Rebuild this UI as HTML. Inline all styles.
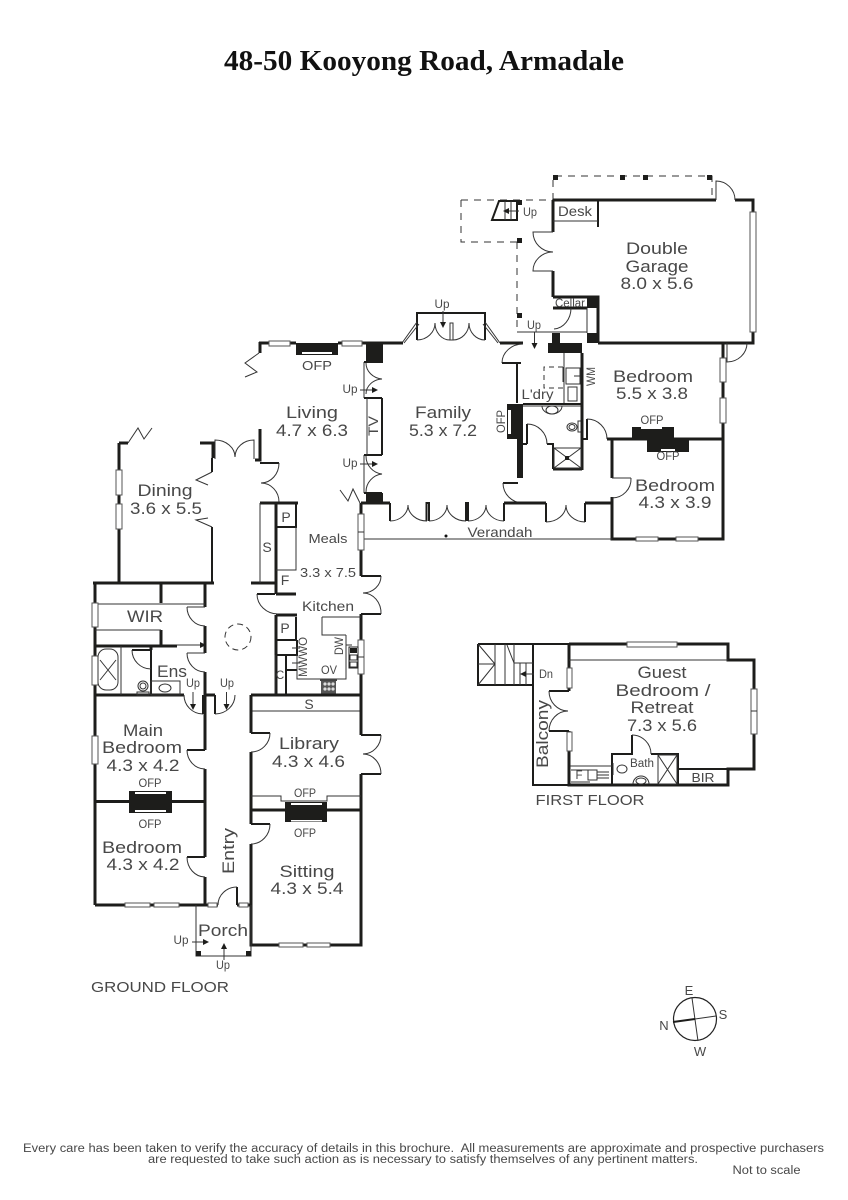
<!DOCTYPE html>
<html><head><meta charset="utf-8"><title>48-50 Kooyong Road, Armadale</title>
<style>
html,body{margin:0;padding:0;background:#fff}
svg{display:block}
.t{fill:none;stroke:#1d1d1b;stroke-width:3}
.m{fill:none;stroke:#1d1d1b;stroke-width:2}
.n{fill:none;stroke:#333;stroke-width:1}
.d{fill:none;stroke:#333;stroke-width:1;stroke-dasharray:7 6}
.b{fill:#1d1d1b}
.w{fill:#fff;stroke:#555;stroke-width:1}
text{font-family:"Liberation Sans",sans-serif;fill:#484848;text-anchor:middle}
.l{font-size:17px}.s{font-size:14px}.x{font-size:11.5px}.o{font-size:13px}
.ti{font-family:"Liberation Serif",serif;font-weight:bold;font-size:28px;fill:#111}
</style></head><body>
<svg width="848" height="1200" viewBox="0 0 848 1200" xmlns="http://www.w3.org/2000/svg">
<defs><marker id="a" markerWidth="6" markerHeight="6" refX="5" refY="3" orient="auto"><path d="M0 0L6 3L0 6z" fill="#1d1d1b"/></marker></defs>
<rect width="848" height="1200" fill="#fff"/>
<text x="424" y="70" class="ti" textLength="400" lengthAdjust="spacingAndGlyphs">48-50 Kooyong Road, Armadale</text>

<!-- GARAGE -->
<path class="d" d="M553 200V176H712V200M461 200H553M461 200V242H517M517 242V332"/>
<rect class="b" x="553" y="175" width="5" height="5"/><rect class="b" x="620" y="175" width="5" height="5"/><rect class="b" x="643" y="175" width="5" height="5"/><rect class="b" x="707" y="175" width="5" height="5"/>
<rect class="b" x="517" y="200" width="5" height="5"/><rect class="b" x="517" y="238" width="5" height="5"/><rect class="b" x="517" y="313" width="5" height="5"/>
<path class="t" d="M553 200H716M735 200H753V343H727M598 343H727M553 200V232M553 271V297M553 297H598V343M553 308H587"/>
<path class="n" d="M716 200V181A19 19 0 0 1 735 200M727 343V362A20 19 0 0 0 747 343"/>
<path class="n" d="M553 232H533A20 20 0 0 0 553 252A20 19 0 0 0 533 271H553"/>
<path class="m" d="M598 200V227"/><path class="n" d="M553 221H598"/>
<rect class="w" x="750" y="212" width="6" height="120"/>
<rect class="b" x="587" y="296" width="11" height="12"/><rect class="b" x="587" y="333" width="11" height="10"/>
<rect class="b" x="552" y="333" width="8" height="10"/><rect class="b" x="548" y="343" width="34" height="10"/>
<path class="n" d="M587 308V333M517 332H587M571 308A18 21 0 0 1 554 329"/>
<!-- stair -->
<path class="m" d="M492 220L499 201H517V220Z"/><path class="n" d="M505 201V220M511 201V220"/>
<path class="n" d="M519 211H504" marker-end="url(#a)"/>
<text x="530" y="216" class="x" textLength="14" lengthAdjust="spacingAndGlyphs">Up</text>
<text x="575" y="216" class="s" textLength="34" lengthAdjust="spacingAndGlyphs">Desk</text>
<text x="570" y="307" class="x" textLength="30" lengthAdjust="spacingAndGlyphs">Cellar</text>
<text x="534" y="329" class="x" textLength="14" lengthAdjust="spacingAndGlyphs">Up</text>
<path class="n" d="M534.500 332V348" marker-end="url(#a)"/>
<text x="657" y="254" class="l" textLength="62" lengthAdjust="spacingAndGlyphs">Double</text>
<text x="657" y="272" class="l" textLength="63" lengthAdjust="spacingAndGlyphs">Garage</text>
<text x="657" y="289" class="l" textLength="73" lengthAdjust="spacingAndGlyphs">8.0 x 5.6</text>

<!-- FAMILY + bay -->
<path class="m" d="M417 340V313H485V340"/>
<rect class="n" x="450" y="323" width="3" height="17"/>
<path class="n" d="M417 340A18 17 0 0 0 435 323A15 17 0 0 0 450 340M453 340A16 17 0 0 0 469 323A16 17 0 0 0 485 340"/>
<path class="n" d="M417 322L402 343M419 324L404 343M485 322L500 343M483 324L498 343"/>
<path class="t" d="M382 343H403M500 343H523"/>
<text x="442" y="308" class="x" textLength="15" lengthAdjust="spacingAndGlyphs">Up</text>
<path class="n" d="M443 311V327" marker-end="url(#a)"/>
<path class="n" d="M523 344A21 19 0 0 0 502 363"/>
<path class="m" d="M502 363H521M517 363V403"/>
<rect class="b" x="507" y="404" width="16" height="35"/><rect x="508" y="410" width="3" height="24" fill="#fff"/>
<rect class="b" x="517" y="439" width="6" height="39"/>
<path class="m" d="M503 483H518"/><path class="n" d="M503 483A20 20 0 0 0 523 503"/>
<path class="t" d="M382 503H390M504 503H546M585 503H612"/>
<path class="m" d="M390 503V521M426.500 521V503H429V521M466 521V503H468V521M504 521V503M546 503V522M585 522V503"/>
<path class="n" d="M390 521A18 16 0 0 0 408 505A19 16 0 0 0 427 521M429 521A18 16 0 0 0 447 505A19 16 0 0 0 466 521M468 521A18 16 0 0 0 486 505A18 16 0 0 0 504 521M546 522A20 17 0 0 0 566 505A19 17 0 0 0 585 522"/>
<text x="443" y="418" class="l" textLength="56" lengthAdjust="spacingAndGlyphs">Family</text>
<text x="443" y="436" class="l" textLength="68" lengthAdjust="spacingAndGlyphs">5.3 x 7.2</text>
<text x="505" y="421.500" class="x" textLength="23" lengthAdjust="spacingAndGlyphs" transform="rotate(-90 505 421.500)">OFP</text>

<!-- LAUNDRY / BATH -->
<path class="n" d="M564 353V403"/>
<rect class="n" x="566" y="368" width="14" height="16"/><rect class="n" x="568" y="387" width="9" height="14"/>
<path class="d" d="M563 367H544V388H563" style="stroke-dasharray:5 4"/><path class="n" d="M563 367V382"/>
<path class="n" d="M574 376H582"/>
<text x="537.500" y="399" class="s" textLength="32" lengthAdjust="spacingAndGlyphs">L'dry</text>
<text x="595" y="376.500" class="x" textLength="19" lengthAdjust="spacingAndGlyphs" transform="rotate(-90 595 376.500)">WM</text>
<path class="m" d="M523 404H582"/>
<path class="n" d="M523 406H582M542 406A10 8 0 0 0 562 406"/>
<ellipse class="n" cx="552" cy="410" rx="6" ry="4"/>
<ellipse class="n" cx="572" cy="427" rx="5" ry="4"/><ellipse class="n" cx="572" cy="427" rx="3" ry="2.500"/>
<rect class="n" x="578" y="421" width="4" height="11"/>
<path class="t" d="M582 353V470M553 469H582"/>
<path class="m" d="M553 469V444H547M527 444V424M527 444H523"/>
<path class="n" d="M527 424A20 20 0 0 1 547 444"/>
<path class="n" d="M554 448H581V468H554ZM554 448L581 468M581 448L554 468"/><rect class="b" x="565" y="456" width="4" height="4"/>
<path class="m" d="M587 419V439H583"/><path class="n" d="M587 419A20 20 0 0 1 607 439"/>

<!-- BEDROOMS EAST -->
<path class="t" d="M607 439H723M723 343V539H612V497M612 478V439M612 503V539"/>
<path class="n" d="M612 478H631"/><path class="n" d="M631 478A19 19 0 0 1 612 498"/>
<rect class="w" x="720" y="358" width="6" height="24"/><rect class="w" x="720" y="398" width="6" height="25"/>
<rect class="w" x="636" y="537" width="22" height="4"/><rect class="w" x="676" y="537" width="22" height="4"/>
<rect class="b" x="632" y="427" width="42" height="12"/><rect class="b" x="647" y="439" width="42" height="13"/>
<rect x="641" y="427" width="21" height="2" fill="#fff"/><rect x="661" y="449" width="14" height="2" fill="#fff"/>
<text x="652" y="424" class="x" textLength="23" lengthAdjust="spacingAndGlyphs">OFP</text><text x="668" y="460" class="x" textLength="23" lengthAdjust="spacingAndGlyphs">OFP</text>
<text x="653" y="382" class="l" textLength="80" lengthAdjust="spacingAndGlyphs">Bedroom</text><text x="652" y="399" class="l" textLength="72" lengthAdjust="spacingAndGlyphs">5.5 x 3.8</text>
<text x="675" y="491" class="l" textLength="80" lengthAdjust="spacingAndGlyphs">Bedroom</text><text x="675" y="508" class="l" textLength="73" lengthAdjust="spacingAndGlyphs">4.3 x 3.9</text>
<path class="n" d="M362 539H612"/><circle cx="446" cy="536" r="1.500" fill="#111"/>
<text x="500" y="537" class="s" textLength="65" lengthAdjust="spacingAndGlyphs">Verandah</text>

<!-- LIVING -->
<path class="t" d="M259 343H296M338 343H382M260 342V353"/>
<rect class="w" x="269" y="341" width="21" height="5"/><rect class="w" x="342" y="341" width="20" height="5"/>
<rect class="b" x="296" y="343" width="42" height="12"/><rect x="302" y="352" width="30" height="2" fill="#fff"/>
<path class="n" d="M259 353L245 363L257 372L245 377"/>
<text x="317" y="370" class="o" textLength="30" lengthAdjust="spacingAndGlyphs">OFP</text>
<rect class="b" x="366" y="343" width="17" height="20"/><rect class="b" x="366" y="493" width="17" height="11"/>
<path class="n" d="M364 362V398M364 455V493"/>
<path class="m" d="M364 362H382M364 398H382M364 455H382M364 493H382"/>
<path class="n" d="M366 363A18 16 0 0 0 382 379A17 15 0 0 0 366 394M366 456A18 18 0 0 0 382 474A18 18 0 0 0 366 492"/>
<path class="m" d="M382 398V455"/><path class="n" d="M367 398V455"/>
<text x="378" y="426" class="s" textLength="20" lengthAdjust="spacingAndGlyphs" transform="rotate(-90 378 426)">TV</text>
<text x="350" y="393" class="x" textLength="15" lengthAdjust="spacingAndGlyphs">Up</text><text x="350" y="467" class="x" textLength="15" lengthAdjust="spacingAndGlyphs">Up</text>
<path class="n" d="M360 390H377" marker-end="url(#a)"/><path class="n" d="M360 464H377" marker-end="url(#a)"/>
<text x="312" y="418" class="l" textLength="52" lengthAdjust="spacingAndGlyphs">Living</text><text x="312" y="436" class="l" textLength="72" lengthAdjust="spacingAndGlyphs">4.7 x 6.3</text>
<path class="n" d="M340 490L348 501L353 489L360 503"/>

<!-- MEALS EAST -->
<path class="t" d="M361 503V576M361 614V695M361 503H382"/>
<rect class="w" x="358" y="514" width="6" height="36"/><rect class="w" x="358" y="640" width="6" height="34"/>
<path class="n" d="M358 532H364M358 657H364"/>
<path class="m" d="M361 576H381M381 614H361"/>
<path class="n" d="M381 576A18 17 0 0 1 363 593A18 20 0 0 1 381 614"/>

<!-- DINING -->
<path class="t" d="M119 443V583M119 443H128M200 443H213V458"/>
<path class="n" d="M128 443L138 428L144 439L152 428"/>
<rect class="w" x="116" y="470" width="6" height="25"/><rect class="w" x="116" y="504" width="6" height="25"/>
<path class="m" d="M212 458V472M212 527V583"/>
<path class="n" d="M212 472L196 480L208 485M208 518L196 520L212 527"/>
<path class="n" d="M215 459V440A20 17 0 0 1 235 457A19 17 0 0 1 254 440V459"/>
<path class="t" d="M260 429V460H255"/><path class="m" d="M260 463H279"/>
<path class="n" d="M279 463A18 20 0 0 1 261 483A18 19 0 0 1 279 502"/>
<text x="165" y="496" class="l" textLength="55" lengthAdjust="spacingAndGlyphs">Dining</text><text x="166" y="514" class="l" textLength="72" lengthAdjust="spacingAndGlyphs">3.6 x 5.5</text>

<!-- CENTRAL STORAGE -->
<path class="t" d="M260 503H298M276 503V594M93 583H214M251 583H276M276 594H296M276 615H297M276 615V695"/>
<path class="n" d="M260 503V583"/>
<path class="m" d="M296 503V527H276"/><path class="n" d="M296 527V570H276"/>
<text x="286" y="522" class="s">P</text><text x="267" y="552" class="s">S</text><text x="285" y="585" class="s">F</text>
<text x="328" y="543" class="o" textLength="39" lengthAdjust="spacingAndGlyphs">Meals</text><text x="328" y="577" class="o" textLength="56" lengthAdjust="spacingAndGlyphs">3.3 x 7.5</text>
<text x="328" y="611" class="s" textLength="52" lengthAdjust="spacingAndGlyphs">Kitchen</text>
<path class="m" d="M275 594H257"/><path class="n" d="M257 594A21 20 0 0 0 278 614"/>

<!-- KITCHEN -->
<path class="m" d="M296 617V640H276M276 655H297V640M286 655V695M287 670H297"/>
<path class="n" d="M275 655V695M297 655V679H346V635M322 617H361M322 617V635H346M346 645H352"/>
<path class="n" d="M292 648H300M292 663H300"/>
<text x="285" y="633" class="s">P</text><text x="280" y="679" class="x">C</text>
<text x="307" y="657" class="x" textLength="40" lengthAdjust="spacingAndGlyphs" transform="rotate(-90 307 657)">MWWO</text>
<text x="343" y="646" class="x" textLength="18" lengthAdjust="spacingAndGlyphs" transform="rotate(-90 343 646)">DW</text>
<text x="329" y="674" class="x" textLength="16" lengthAdjust="spacingAndGlyphs">OV</text>
<rect x="349" y="647" width="9" height="21" fill="#fff" stroke="#222" stroke-width="1"/><rect class="b" x="350" y="648" width="7" height="5"/><rect class="n" x="350" y="655" width="7" height="5"/><rect class="n" x="350" y="662" width="7" height="5"/>
<rect x="320" y="679" width="17" height="2" fill="#444"/><rect x="321" y="681" width="15" height="13" fill="#555"/>
<circle cx="325" cy="684" r="1.600" fill="#ddd"/><circle cx="329" cy="684" r="1.600" fill="#ddd"/><circle cx="333" cy="684" r="1.600" fill="#ddd"/><circle cx="325" cy="689" r="1.600" fill="#ddd"/><circle cx="329" cy="689" r="1.600" fill="#ddd"/><circle cx="333" cy="689" r="1.600" fill="#ddd"/>

<!-- WIR / ENS -->
<path class="t" d="M95 583V905M205 583V607M205 626V653M205 672V695M95 695H184M206 695H215M251 695H361"/>
<path class="t" d="M161 583V603M161 630V646M95 646H177M151 646V650"/>
<path class="n" d="M95 604H205M95 630H161"/><path class="n" d="M177 645H205" marker-end="url(#a)"/>
<rect class="w" x="92" y="603" width="6" height="24"/><rect class="w" x="92" y="656" width="6" height="29"/>
<path class="n" d="M205 607H187M205 653H187"/><path class="n" d="M187 607A18 19 0 0 0 205 626M187 653A18 19 0 0 0 205 672"/>
<text x="145" y="622" class="l" textLength="36" lengthAdjust="spacingAndGlyphs">WIR</text>
<circle cx="238" cy="637" r="13" fill="none" stroke="#333" stroke-dasharray="6 4"/>
<path class="n" d="M121 646V695"/>
<rect x="98" y="649" width="20" height="41" rx="8" fill="none" stroke="#333"/><path class="n" d="M100 660L116 680M116 660L100 680"/>
<path class="m" d="M132 650H151V669"/><path class="n" d="M132 650A19 19 0 0 0 151 669"/><path class="m" d="M151 669V695"/>
<ellipse class="n" cx="143" cy="686" rx="5" ry="5"/><ellipse class="n" cx="143" cy="686" rx="3" ry="3"/><rect class="n" x="137" y="692" width="12" height="3"/>
<rect class="n" x="151" y="681" width="29" height="14"/><ellipse class="n" cx="165" cy="688" rx="6" ry="4"/>
<text x="172" y="677" class="l" textLength="30" lengthAdjust="spacingAndGlyphs">Ens</text>
<text x="193" y="687" class="x" textLength="14" lengthAdjust="spacingAndGlyphs">Up</text><text x="227" y="687" class="x" textLength="14" lengthAdjust="spacingAndGlyphs">Up</text>
<path class="n" d="M193 692V709" marker-end="url(#a)"/><path class="n" d="M226.500 692V709" marker-end="url(#a)"/>
<path class="n" d="M184 695A19 19 0 0 0 203 714"/><path class="m" d="M203 695V714M215 695V714"/><path class="n" d="M215 714A20 19 0 0 0 235 695"/>

<!-- WEST BEDROOMS -->
<path class="t" d="M205 695V750M205 769V857M205 877V905M95 905H205M95 801.500H205"/>
<path class="m" d="M205 750H187M205 857H187"/><path class="n" d="M187 750A18 19 0 0 0 205 769M187 857A18 20 0 0 0 205 877"/>
<rect class="w" x="92" y="736" width="6" height="28"/>
<rect class="w" x="125" y="903" width="25" height="4"/><rect class="w" x="154" y="903" width="25" height="4"/>
<rect class="b" x="129" y="791" width="43" height="22"/><rect x="135" y="792" width="31" height="2" fill="#fff"/><rect x="135" y="810" width="31" height="2" fill="#fff"/>
<text x="150" y="787" class="x" textLength="23" lengthAdjust="spacingAndGlyphs">OFP</text><text x="150" y="828" class="x" textLength="23" lengthAdjust="spacingAndGlyphs">OFP</text>
<text x="143" y="736" class="l" textLength="40" lengthAdjust="spacingAndGlyphs">Main</text><text x="142" y="753" class="l" textLength="80" lengthAdjust="spacingAndGlyphs">Bedroom</text><text x="143" y="771" class="l" textLength="73" lengthAdjust="spacingAndGlyphs">4.3 x 4.2</text>
<text x="142" y="853" class="l" textLength="80" lengthAdjust="spacingAndGlyphs">Bedroom</text><text x="143" y="870" class="l" textLength="73" lengthAdjust="spacingAndGlyphs">4.3 x 4.2</text>

<!-- LIBRARY / SITTING -->
<path class="n" d="M251 711H361"/>
<text x="309" y="709" class="s">S</text>
<path class="t" d="M251 695V733M251 752V824M251 844V945H361V774M361 735V695M251 810H361"/>
<path class="m" d="M251 733H270M251 824H270M361 735H381M381 774H361"/>
<path class="n" d="M270 733A19 19 0 0 1 251 752M270 824A19 20 0 0 1 251 844M381 735A18 19 0 0 1 363 754A18 20 0 0 1 381 774"/>
<path class="n" d="M251 796H281V801H327V796H361"/>
<rect class="b" x="285" y="802" width="42" height="20"/><rect x="291" y="803" width="31" height="2" fill="#fff"/><rect x="291" y="820" width="31" height="1.500" fill="#fff"/>
<rect class="w" x="279" y="943" width="24" height="4"/><rect class="w" x="307" y="943" width="23" height="4"/>
<text x="305" y="797" class="x" textLength="22" lengthAdjust="spacingAndGlyphs">OFP</text><text x="305" y="837" class="x" textLength="22" lengthAdjust="spacingAndGlyphs">OFP</text>
<text x="309" y="749" class="l" textLength="60" lengthAdjust="spacingAndGlyphs">Library</text><text x="308.500" y="767" class="l" textLength="73" lengthAdjust="spacingAndGlyphs">4.3 x 4.6</text>
<text x="307" y="877" class="l" textLength="55" lengthAdjust="spacingAndGlyphs">Sitting</text><text x="307" y="894" class="l" textLength="73" lengthAdjust="spacingAndGlyphs">4.3 x 5.4</text>

<!-- ENTRY / PORCH -->
<text x="234" y="851" class="l" textLength="46" lengthAdjust="spacingAndGlyphs" transform="rotate(-90 234 851)">Entry</text>
<path class="t" d="M205 905H218M237 905H251"/>
<rect class="w" x="208" y="903" width="9" height="4"/><rect class="w" x="239" y="903" width="9" height="4"/>
<path class="m" d="M237 905V887"/><path class="n" d="M237 887A19 18 0 0 0 218 905"/>
<path class="n" d="M196 905V956H251V905"/>
<rect class="b" x="196" y="951" width="5" height="5"/><rect class="b" x="246" y="951" width="5" height="5"/>
<text x="223" y="936" class="l" textLength="50" lengthAdjust="spacingAndGlyphs">Porch</text>
<text x="181" y="944" class="x" textLength="15" lengthAdjust="spacingAndGlyphs">Up</text><text x="223" y="969" class="x" textLength="14" lengthAdjust="spacingAndGlyphs">Up</text>
<path class="n" d="M192 942H208" marker-end="url(#a)"/><path class="n" d="M224 960V944" marker-end="url(#a)"/>
<text x="160" y="992" style="font-size:15px" textLength="138" lengthAdjust="spacingAndGlyphs">GROUND FLOOR</text>

<!-- FIRST FLOOR -->
<path class="m" d="M478 644H569M478 644V685H533M533 644V785H569"/>
<path class="n" d="M478 644L495 664L478 685M478 664H495M495 644V685M505 644V685M514 644V685M520 663V685M526 663V685M514 663H533M507 645L514 663"/>
<path class="n" d="M534 674H521" marker-end="url(#a)"/>
<text x="546" y="678" class="x" textLength="14" lengthAdjust="spacingAndGlyphs">Dn</text>
<path class="t" d="M569 644V691M569 731V785H728V769H754V660H728V644H569"/>
<path class="n" d="M569 660H728"/>
<rect class="w" x="627" y="642" width="50" height="5"/><rect class="w" x="751" y="689" width="6" height="45"/><path class="n" d="M751 711H757"/>
<rect class="w" x="567" y="668" width="5" height="20"/><rect class="w" x="567" y="732" width="5" height="19"/>
<path class="m" d="M569 691H549M569 731H549"/>
<path class="n" d="M549 691A19 20 0 0 0 568 711A19 20 0 0 0 549 731"/>
<path class="m" d="M612 785V754H632V735M651 754H678V785"/><path class="n" d="M632 735A19 19 0 0 1 651 754"/>
<path class="m" d="M678 769H728"/>
<path class="n" d="M658 755H677V784H658ZM658 755L677 784M677 755L658 784M570 766H612"/>
<ellipse class="n" cx="622" cy="769" rx="5" ry="4"/><path class="n" d="M613 763V775"/>
<path class="n" d="M633 784A8 8 0 0 1 649 784"/><ellipse class="n" cx="641" cy="781" rx="5" ry="3"/>
<rect class="n" x="588" y="770" width="9" height="10"/><path class="n" d="M597 772H609M597 775H609M597 778H609M571 770H590M571 782H590"/>
<text x="579" y="779" class="x">F</text>
<text x="642" y="767" class="x" textLength="24" lengthAdjust="spacingAndGlyphs">Bath</text>
<text x="703" y="782" class="o" textLength="23" lengthAdjust="spacingAndGlyphs">BIR</text>
<text x="548" y="734" class="l" textLength="68" lengthAdjust="spacingAndGlyphs" transform="rotate(-90 548 734)">Balcony</text>
<text x="662" y="678" class="l" textLength="49" lengthAdjust="spacingAndGlyphs">Guest</text><text x="663" y="696" class="l" textLength="95" lengthAdjust="spacingAndGlyphs">Bedroom /</text>
<text x="662" y="713" class="l" textLength="63" lengthAdjust="spacingAndGlyphs">Retreat</text><text x="662" y="731" class="l" textLength="70" lengthAdjust="spacingAndGlyphs">7.3 x 5.6</text>
<text x="590" y="805" style="font-size:15px" textLength="109" lengthAdjust="spacingAndGlyphs">FIRST FLOOR</text>

<!-- COMPASS -->
<circle cx="695" cy="1019" r="21.500" fill="none" stroke="#222" stroke-width="1.200"/>
<path class="n" d="M692 998L698 1041M695 1019L716 1016"/><path class="m" d="M673 1022L695 1019"/>
<text x="689" y="995" class="o">E</text><text x="723" y="1019" class="o">S</text><text x="664" y="1030" class="o">N</text><text x="700" y="1056" class="o">W</text>

<!-- FOOTER -->
<text x="423.500" y="1152" style="font-size:11.500px" textLength="801" lengthAdjust="spacingAndGlyphs">Every care has been taken to verify the accuracy of details in this brochure.&#160; All measurements are approximate and prospective purchasers</text>
<text x="423" y="1163" style="font-size:11.500px" textLength="550" lengthAdjust="spacingAndGlyphs">are requested to take such action as is necessary to satisfy themselves of any pertinent matters.</text>
<text x="766.500" y="1174" style="font-size:11.500px" textLength="68" lengthAdjust="spacingAndGlyphs">Not to scale</text>
</svg>
</body></html>
